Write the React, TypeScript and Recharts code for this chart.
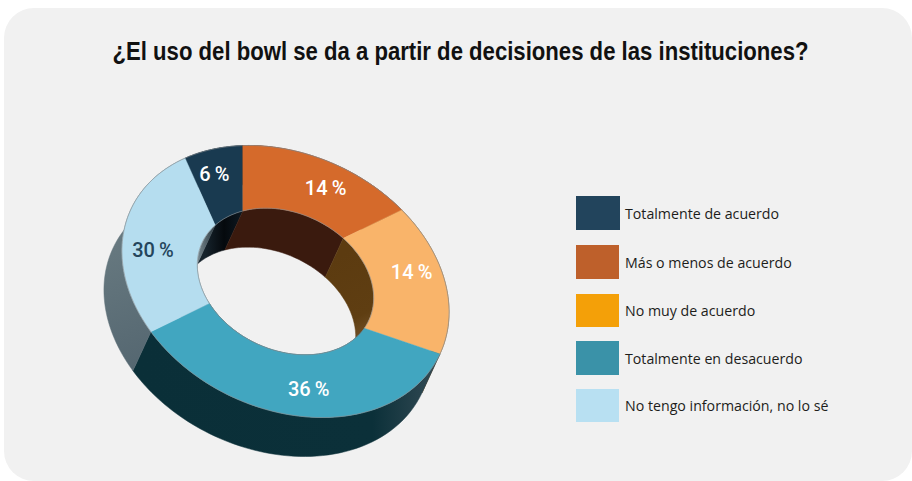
import React from 'react';
import { PieChart, Pie, Legend } from 'recharts';

const title = '¿El uso del bowl se da a partir de decisiones de las instituciones?';

const categories = [
    'Totalmente de acuerdo',
    'Más o menos de acuerdo',
    'No muy de acuerdo',
    'Totalmente en desacuerdo',
    'No tengo información, no lo sé',
];
const values = [6, 14, 14, 36, 30];
const sliceColors = ['#193a50', '#d56a2b', '#f9b46a', '#41a6c0', '#b5ddef'];
const legendColors = ['#22445c', '#be602b', '#f4a008', '#3a92a8', '#b8e0f2'];
const labelColors = ['#ffffff', '#ffffff', '#ffffff', '#ffffff', '#24455c'];
const outerWallFills = ['#0b1a24', '#3a1a0e', '#5e3c10', 'url(#wallTeal)', 'url(#wallSky)'];
const innerWallFills = ['url(#holeNavy)', '#3a1a0e', 'url(#holePeach)', '#0b3039', 'url(#holeSky)'];

// Tilted-disc projection: the ring is an ellipse whose centre sits away from the pie's apex
const TILT = (25.2 * Math.PI) / 180;
const SQUASH = 0.745;
const RING_SHIFT = { x: 42.5, y: -5.5 };
const DEPTH = { x: -18, y: 39 };

const chartData = categories.map((name, i) => ({
    name,
    value: values[i],
    fill: sliceColors[i],
    labelColor: labelColors[i],
    outerWall: outerWallFills[i],
    innerWall: innerWallFills[i],
}));

// Point where the ray at `angle` (recharts degrees) from the apex meets a ring of relative radius `ratio`
const rimPoint = (p: any, angle: number, ratio: number) => {
    const a = p.outerRadius;
    const b = a * SQUASH;
    const cos = Math.cos(TILT);
    const sin = Math.sin(TILT);
    // apex in unit-circle space
    const ax = (-RING_SHIFT.x * cos - RING_SHIFT.y * sin) / a;
    const ay = (RING_SHIFT.x * sin - RING_SHIFT.y * cos) / b;
    const rad = (-angle * Math.PI) / 180;
    const dx = Math.cos(rad);
    const dy = Math.sin(rad);
    const dot = ax * dx + ay * dy;
    const s = -dot + Math.sqrt(dot * dot + ratio * ratio - ax * ax - ay * ay);
    const ux = (ax + s * dx) * a;
    const uy = (ay + s * dy) * b;
    return {
        x: p.cx + RING_SHIFT.x + ux * cos - uy * sin,
        y: p.cy + RING_SHIFT.y + ux * sin + uy * cos,
    };
};

const sampleRim = (p: any, ratio: number) => {
    const steps = Math.max(4, Math.ceil(Math.abs(p.endAngle - p.startAngle) / 2));
    const pts = [];
    for (let i = 0; i <= steps; i++) {
        pts.push(rimPoint(p, p.startAngle + ((p.endAngle - p.startAngle) * i) / steps, ratio));
    }
    return pts;
};

const toPath = (pts: { x: number; y: number }[], close = true) =>
    'M' + pts.map(q => `${q.x.toFixed(2)},${q.y.toFixed(2)}`).join('L') + (close ? 'Z' : '');

const sweep = (pts: { x: number; y: number }[]) =>
    pts.map(q => ({ x: q.x + DEPTH.x, y: q.y + DEPTH.y })).reverse();

const WallShape = (p: any) => {
    const ratio = p.innerRadius / p.outerRadius;
    const outer = sampleRim(p, 1);
    const inner = sampleRim(p, ratio);
    return (
        <g>
            <path d={toPath([...outer, ...sweep(outer)])} fill={p.outerWall} stroke={p.outerWall} strokeWidth={0.5} />
            <path d={toPath([...inner, ...sweep(inner)])} fill={p.innerWall} stroke={p.innerWall} strokeWidth={0.5} />
        </g>
    );
};

const TopShape = (p: any) => {
    const ratio = p.innerRadius / p.outerRadius;
    const outer = sampleRim(p, 1);
    const inner = sampleRim(p, ratio);
    return (
        <g>
            <path d={toPath([...outer, ...[...inner].reverse()])} fill={p.fill} stroke={p.fill} strokeWidth={0.4} />
            <path d={toPath(outer, false)} fill="none" stroke="#8c9094" strokeWidth={0.6} />
            <path d={toPath(inner, false)} fill="none" stroke="#8c9094" strokeWidth={0.6} />
        </g>
    );
};

// Hand placement of the percentages inside their slices
const labelNudge = [
    { x: -5, y: -9 },
    { x: 17, y: 2 },
    { x: 3, y: -11 },
    { x: 38, y: 10 },
    { x: -7, y: -4 },
];

const renderLabel = (p: any) => {
    const ratio = p.innerRadius / p.outerRadius;
    const mid = (p.startAngle + p.endAngle) / 2;
    const o = rimPoint(p, mid, 1);
    const n = rimPoint(p, mid, ratio);
    const nudge = labelNudge[p.index] || { x: 0, y: 0 };
    return (
        <text
            x={(o.x + n.x) / 2 + nudge.x}
            y={(o.y + n.y) / 2 + nudge.y}
            textAnchor="middle"
            dominantBaseline="central"
            fontFamily="Roboto, sans-serif"
            fontWeight={500}
            fontSize={20}
            fill={p.labelColor}
        >
            {`${p.value}\u2009%`}
        </text>
    );
};

const legendRowTop = [0, 49, 98, 145, 193];
const legendRowHeight = [34, 34, 33, 34, 33];

const renderLegend = () => (
    <div style={{ position: 'relative', width: 290, height: 230 }}>
        {categories.map((name, i) => (
            <div key={name} style={{ position: 'absolute', left: 0, top: legendRowTop[i], display: 'flex', alignItems: 'center' }}>
                <div style={{ width: i === 0 ? 44 : 43, height: legendRowHeight[i], marginRight: i === 0 ? 5 : 6, backgroundColor: legendColors[i] }} />
                <span style={{ fontFamily: '"Open Sans", sans-serif', fontSize: 14.2, color: '#1d1d1b', whiteSpace: 'nowrap' }}>{name}</span>
            </div>
        ))}
    </div>
);

const App: React.FC = () => (
    <div style={{ position: 'fixed', left: 0, top: 0, width: 912, height: 481, overflow: 'hidden', background: '#ffffff' }}>
        <div style={{ position: 'absolute', left: 4, top: 8, width: 908, height: 473, borderRadius: 30, background: '#f1f1f1' }} />
        <div
            style={{
                position: 'absolute',
                left: 0,
                top: 35,
                width: 921,
                textAlign: 'center',
                whiteSpace: 'nowrap',
                transform: 'scaleX(0.835)',
                fontFamily: '"Liberation Sans", sans-serif',
                fontWeight: 700,
                fontSize: 26.5,
                lineHeight: '32px',
                color: '#111111',
            }}
        >
            {title}
        </div>
        <div style={{ position: 'absolute', left: 0, top: 0 }}>
            <PieChart width={912} height={481} margin={{ top: 0, right: 0, bottom: 0, left: 0 }}>
                <defs>
                    <linearGradient id="wallTeal" gradientUnits="userSpaceOnUse" x1="135" y1="0" x2="432" y2="0">
                        <stop offset="0" stopColor="#0a2f38" />
                        <stop offset="0.8" stopColor="#0b3039" />
                        <stop offset="1" stopColor="#304852" />
                    </linearGradient>
                    <linearGradient id="wallSky" gradientUnits="userSpaceOnUse" x1="103" y1="250" x2="150" y2="370">
                        <stop offset="0" stopColor="#66787f" />
                        <stop offset="1" stopColor="#546670" />
                    </linearGradient>
                    <linearGradient id="holeNavy" gradientUnits="userSpaceOnUse" x1="205" y1="0" x2="243" y2="0">
                        <stop offset="0" stopColor="#16232c" />
                        <stop offset="0.5" stopColor="#05090d" />
                        <stop offset="1" stopColor="#0d1922" />
                    </linearGradient>
                    <linearGradient id="holePeach" gradientUnits="userSpaceOnUse" x1="330" y1="260" x2="372" y2="340">
                        <stop offset="0" stopColor="#5c3b10" />
                        <stop offset="0.7" stopColor="#5f3e12" />
                        <stop offset="1" stopColor="#75542c" />
                    </linearGradient>
                    <linearGradient id="holeSky" gradientUnits="userSpaceOnUse" x1="198" y1="0" x2="216" y2="0">
                        <stop offset="0" stopColor="#76868d" />
                        <stop offset="1" stopColor="#2a3840" />
                    </linearGradient>
                </defs>
                <Pie
                    data={chartData}
                    dataKey="value"
                    cx={243}
                    cy={287}
                    innerRadius={92}
                    outerRadius={170.6}
                    startAngle={131}
                    endAngle={-229}
                    shape={WallShape}
                    legendType="none"
                    isAnimationActive={false}
                />
                <Pie
                    data={chartData}
                    dataKey="value"
                    cx={243}
                    cy={287}
                    innerRadius={92}
                    outerRadius={170.6}
                    startAngle={131}
                    endAngle={-229}
                    shape={TopShape}
                    label={renderLabel}
                    labelLine={false}
                    isAnimationActive={false}
                />
                <Legend
                    layout="vertical"
                    content={renderLegend}
                    wrapperStyle={{ position: 'absolute', left: 576, top: 196, width: 290, height: 230, bottom: 'auto' }}
                />
            </PieChart>
        </div>
    </div>
);

export default App;
